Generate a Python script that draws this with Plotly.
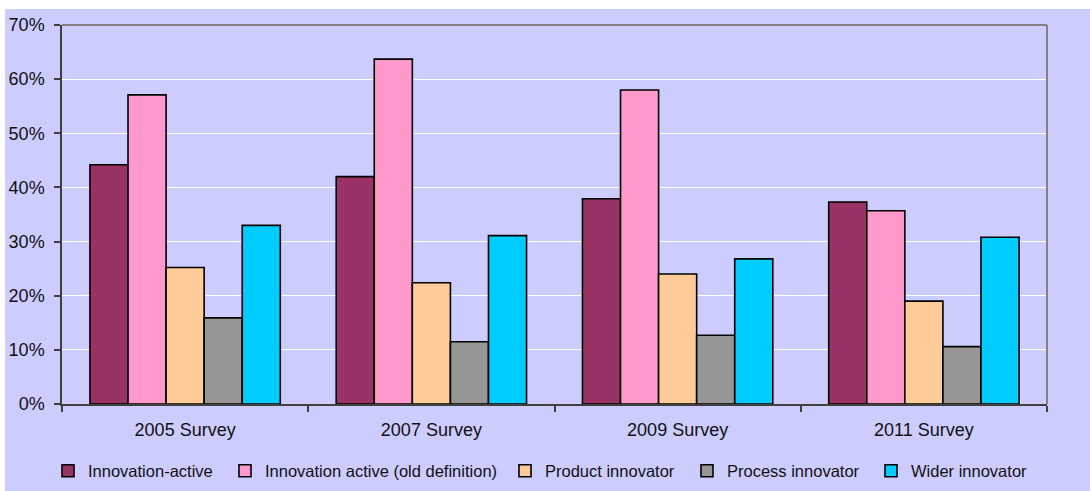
import plotly.graph_objects as go

# Survey waves on the category axis
surveys = ["2005 Survey", "2007 Survey", "2009 Survey", "2011 Survey"]

# Share of enterprises (%) per survey wave
innovation_active = [44.2, 42.0, 37.9, 37.3]
innovation_active_old = [57.1, 63.7, 58.0, 35.7]
product_innovator = [25.2, 22.4, 24.0, 19.0]
process_innovator = [15.9, 11.5, 12.7, 10.6]
wider_innovator = [33.0, 31.1, 26.8, 30.8]

series_names = [
    "Innovation-active",
    "Innovation active (old definition)",
    "Product innovator",
    "Process innovator",
    "Wider innovator",
]
series_values = [
    innovation_active,
    innovation_active_old,
    product_innovator,
    process_innovator,
    wider_innovator,
]
series_colors = ["#993366", "#FF99CC", "#FFCC99", "#969696", "#00CCFF"]

y_ticks = [0, 10, 20, 30, 40, 50, 60, 70]
y_tick_labels = [f"{v}%" for v in y_ticks]

FONT = "Liberation Sans, Arial, sans-serif"
BG = "#CCCCFF"

W, H = 1090, 491
ML, MR, MT, MB = 62, 43, 25, 87
pw, ph = W - ML - MR, H - MT - MB

# left edge (px) of each legend entry's text along the bottom row
legend_text_x = [88, 265, 545, 727, 911]
legend_ids = ["legend", "legend2", "legend3", "legend4", "legend5"]

fig = go.Figure()
for name, vals, col, lid in zip(series_names, series_values, series_colors, legend_ids):
    fig.add_trace(
        go.Bar(
            name=name,
            x=surveys,
            y=vals,
            legend=lid,
            marker=dict(color=col, line=dict(color="#000000", width=1.6)),
        )
    )


def px_x(p):
    return (p - ML) / pw


def px_y(p):
    return (H - MB - p) / ph


legend_layout = {}
for lid, tx in zip(legend_ids, legend_text_x):
    legend_layout[lid] = dict(
        orientation="h",
        xref="container",
        yref="container",
        x=(tx - 40) / W,
        xanchor="left",
        y=1 - 471 / H,
        yanchor="middle",
        font=dict(size=16.5, color="#111111", family=FONT),
        bgcolor="rgba(0,0,0,0)",
        itemwidth=30,
    )

fig.update_layout(
    width=W,
    height=H,
    margin=dict(l=ML, r=MR, t=MT, b=MB, pad=0, autoexpand=False),
    paper_bgcolor="#FFFFFF",
    plot_bgcolor=BG,
    barmode="group",
    bargap=0.227,
    bargroupgap=0,
    font=dict(family=FONT, size=18, color="#111111"),
    showlegend=True,
    xaxis=dict(
        type="category",
        showline=True,
        linecolor="#404040",
        linewidth=1.5,
        ticks="outside",
        tickson="boundaries",
        ticklen=6,
        tickcolor="#404040",
        tickwidth=1.5,
        ticklabelstandoff=9,
        showgrid=False,
        tickfont=dict(size=18),
        range=[-0.5, 3.5],
    ),
    yaxis=dict(
        range=[0, 70],
        tickvals=y_ticks,
        ticktext=y_tick_labels,
        showline=True,
        linecolor="#404040",
        linewidth=1.5,
        ticks="outside",
        ticklen=6,
        tickcolor="#404040",
        tickwidth=1.5,
        ticklabelstandoff=6,
        showgrid=True,
        gridcolor="#FFFFFF",
        gridwidth=1.2,
        zeroline=False,
        tickfont=dict(size=18),
    ),
    shapes=[
        # lavender chart panel, inset from the top and left page edges
        dict(type="rect", xref="paper", yref="paper", x0=px_x(5), x1=px_x(W + 10),
             y0=px_y(H + 10), y1=px_y(9), fillcolor=BG, line=dict(width=0), layer="below"),
        # grey frame on the top and right of the plot area
        dict(type="line", xref="paper", yref="paper", x0=0, x1=1, y0=1, y1=1,
             line=dict(color="#808080", width=2)),
        dict(type="line", xref="paper", yref="paper", x0=1, x1=1, y0=0, y1=1,
             line=dict(color="#808080", width=2)),
    ],
    **legend_layout,
)

# keep the page itself flush with the figure and in the panel colour below it
page_style = (
    "document.documentElement.style.margin='0';"
    "document.body.style.margin='0';"
    "document.body.style.background='linear-gradient(to right, #FFFFFF 5px, #CCCCFF 5px)';"
)
fig.write_html("out.html", post_script=page_style)
